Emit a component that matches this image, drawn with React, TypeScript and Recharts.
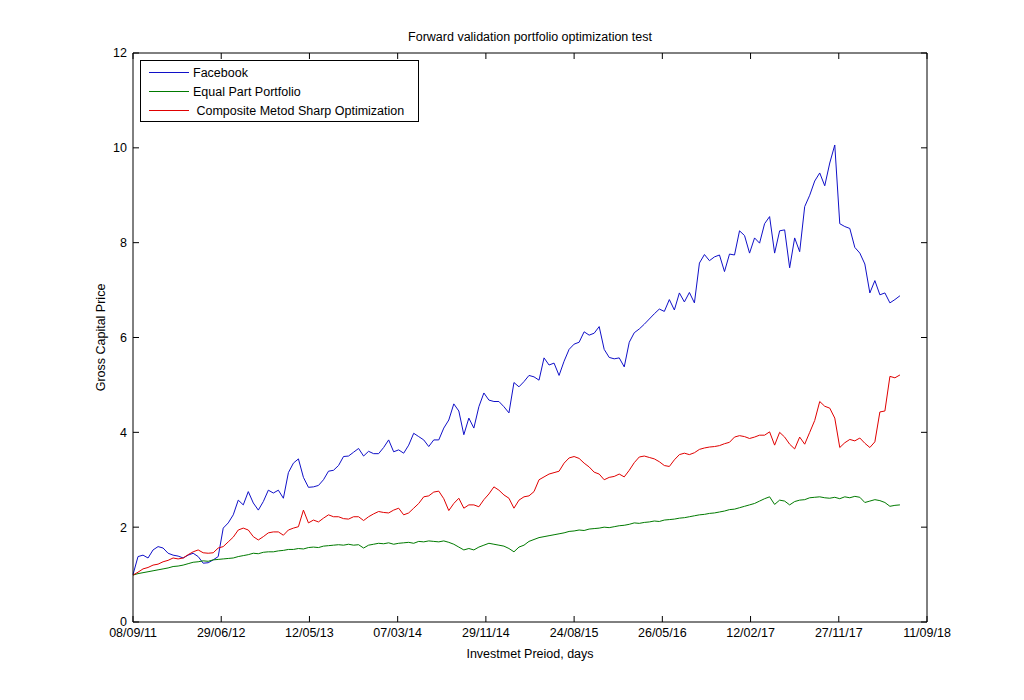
import React from 'react';
import { LineChart, Line, XAxis, YAxis, Legend } from 'recharts';

const dateLabels = ['08/09/11', '29/06/12', '12/05/13', '07/03/14', '29/11/14', '24/08/15', '26/05/16', '12/02/17', '27/11/17', '11/09/18'];
const priceTicks = [0, 2, 4, 6, 8, 10, 12];

const facebook = [
  1.00, 1.38, 1.41, 1.35, 1.52, 1.59, 1.56, 1.45, 1.41, 1.39,
  1.35, 1.41, 1.45, 1.38, 1.24, 1.25, 1.31, 1.38, 1.98, 2.09,
  2.26, 2.57, 2.47, 2.75, 2.51, 2.36, 2.54, 2.78, 2.72, 2.78,
  2.61, 3.15, 3.35, 3.44, 3.05, 2.84, 2.85, 2.88, 3.00, 3.18,
  3.20, 3.30, 3.49, 3.50, 3.58, 3.66, 3.50, 3.60, 3.55, 3.55,
  3.68, 3.84, 3.59, 3.63, 3.56, 3.73, 3.98, 3.91, 3.84, 3.70,
  3.84, 3.84, 4.09, 4.26, 4.60, 4.45, 3.95, 4.30, 4.09, 4.54,
  4.83, 4.68, 4.65, 4.65, 4.54, 4.41, 5.05, 4.96, 5.07, 5.20,
  5.17, 5.10, 5.57, 5.42, 5.46, 5.20, 5.50, 5.75, 5.86, 5.90,
  6.12, 6.05, 6.09, 6.23, 5.75, 5.58, 5.55, 5.57, 5.38, 5.90,
  6.10, 6.18, 6.28, 6.39, 6.50, 6.60, 6.55, 6.80, 6.58, 6.94,
  6.75, 6.95, 6.73, 7.57, 7.75, 7.62, 7.70, 7.74, 7.39, 7.76,
  7.74, 8.25, 8.15, 7.78, 8.10, 7.99, 8.40, 8.55, 7.78, 8.25,
  8.27, 7.47, 8.10, 7.81, 8.76, 9.00, 9.30, 9.47, 9.20, 9.68,
  10.06, 8.40, 8.34, 8.30, 7.90, 7.78, 7.55, 6.94, 7.20, 6.90,
  6.94, 6.73, 6.80, 6.88,
];

const equalPart = [
  0.99, 1.02, 1.04, 1.06, 1.08, 1.10, 1.12, 1.14, 1.17, 1.18,
  1.20, 1.23, 1.26, 1.27, 1.29, 1.28, 1.31, 1.32, 1.33, 1.34,
  1.35, 1.38, 1.40, 1.42, 1.45, 1.44, 1.47, 1.48, 1.48, 1.50,
  1.51, 1.53, 1.53, 1.55, 1.54, 1.57, 1.58, 1.57, 1.60, 1.61,
  1.62, 1.63, 1.62, 1.64, 1.62, 1.63, 1.56, 1.62, 1.64, 1.66,
  1.65, 1.67, 1.64, 1.66, 1.67, 1.68, 1.66, 1.70, 1.69, 1.71,
  1.70, 1.69, 1.71, 1.68, 1.64, 1.58, 1.52, 1.55, 1.52, 1.58,
  1.62, 1.66, 1.64, 1.62, 1.60, 1.55, 1.48, 1.58, 1.62, 1.70,
  1.74, 1.78, 1.80, 1.82, 1.84, 1.86, 1.88, 1.91, 1.92, 1.94,
  1.93, 1.96, 1.97, 1.98, 2.00, 1.99, 2.01, 2.03, 2.04, 2.06,
  2.09, 2.08, 2.10, 2.11, 2.13, 2.12, 2.15, 2.16, 2.17, 2.19,
  2.20, 2.22, 2.24, 2.26, 2.27, 2.29, 2.30, 2.32, 2.34, 2.37,
  2.38, 2.41, 2.44, 2.47, 2.50, 2.55, 2.60, 2.64, 2.48, 2.57,
  2.55, 2.47, 2.54, 2.57, 2.58, 2.62, 2.63, 2.64, 2.62, 2.61,
  2.63, 2.60, 2.64, 2.62, 2.65, 2.63, 2.52, 2.55, 2.58, 2.56,
  2.52, 2.44, 2.46, 2.47,
];

const composite = [
  0.99, 1.05, 1.12, 1.15, 1.20, 1.22, 1.27, 1.30, 1.35, 1.33,
  1.35, 1.42, 1.48, 1.52, 1.46, 1.45, 1.46, 1.56, 1.59, 1.69,
  1.79, 1.94, 1.98, 1.94, 1.80, 1.73, 1.80, 1.88, 1.90, 1.90,
  1.83, 1.94, 1.98, 2.01, 2.36, 2.09, 2.15, 2.11, 2.19, 2.26,
  2.22, 2.22, 2.18, 2.17, 2.22, 2.22, 2.14, 2.22, 2.28, 2.33,
  2.31, 2.30, 2.36, 2.40, 2.26, 2.30, 2.40, 2.50, 2.64, 2.66,
  2.74, 2.76, 2.60, 2.35, 2.50, 2.61, 2.40, 2.47, 2.47, 2.43,
  2.58, 2.70, 2.85, 2.78, 2.68, 2.61, 2.40, 2.57, 2.64, 2.66,
  2.75, 3.00, 3.06, 3.12, 3.15, 3.18, 3.35, 3.46, 3.49, 3.45,
  3.35, 3.27, 3.16, 3.12, 3.00, 3.05, 3.07, 3.12, 3.06, 3.20,
  3.36, 3.48, 3.50, 3.47, 3.44, 3.38, 3.30, 3.28, 3.42, 3.53,
  3.56, 3.53, 3.57, 3.64, 3.67, 3.69, 3.70, 3.72, 3.76, 3.79,
  3.90, 3.93, 3.91, 3.87, 3.90, 3.94, 3.94, 4.01, 3.73, 4.00,
  3.90, 3.75, 3.65, 3.90, 3.75, 4.00, 4.25, 4.65, 4.55, 4.51,
  4.30, 3.68, 3.78, 3.85, 3.82, 3.88, 3.77, 3.68, 3.80, 4.43,
  4.45, 5.18, 5.15, 5.21,
];

const FONT = '"Liberation Sans", Arial, Helvetica, sans-serif';
const FS = 12.5;
const TICK_LEN = 6;

const data = facebook.map((v, i) => ({
  t: i * 5,
  facebook: v,
  equalPart: equalPart[i],
  composite: composite[i],
}));
const xTicks = dateLabels.map((_, i) => i * 88);

const series = [
  { key: 'facebook', name: 'Facebook', color: '#1010c8' },
  { key: 'equalPart', name: 'Equal Part Portfolio', color: '#007a00' },
  { key: 'composite', name: ' Composite Metod Sharp Optimization', color: '#e00000' },
];

const BottomTick = (props: any) => {
  const { x, y, payload } = props;
  const label = dateLabels[xTicks.indexOf(payload.value)];
  return (
    <g>
      <line x1={x} x2={x} y1={y - 5} y2={y - 5 - TICK_LEN} stroke="#000" />
      <text x={x} y={y} dy="0.8em" textAnchor="middle" fontSize={FS} fontFamily={FONT} fill="#000">
        {label}
      </text>
    </g>
  );
};

const TopTick = (props: any) => {
  const { x, y } = props;
  return <line x1={x} x2={x} y1={y} y2={y + TICK_LEN} stroke="#000" />;
};

const LeftTick = (props: any) => {
  const { x, y, payload } = props;
  return (
    <g>
      <line x1={x + 6} x2={x + 6 + TICK_LEN} y1={y} y2={y} stroke="#000" />
      <text x={x} y={y} dy="0.35em" textAnchor="end" fontSize={FS} fontFamily={FONT} fill="#000">
        {payload.value}
      </text>
    </g>
  );
};

const RightTick = (props: any) => {
  const { x, y } = props;
  return <line x1={x} x2={x - TICK_LEN} y1={y} y2={y} stroke="#000" />;
};

const LegendBox = () => (
  <div
    style={{
      width: 277,
      height: 58,
      border: '1px solid #000',
      background: '#fff',
      paddingTop: 2,
      boxSizing: 'content-box',
      fontFamily: FONT,
      fontSize: FS,
      color: '#000',
      textAlign: 'left',
    }}
  >
    {series.map((s) => (
      <div key={s.key} style={{ display: 'flex', alignItems: 'center', height: 19 }}>
        <span style={{ display: 'inline-block', width: 40, height: 1, background: s.color, marginLeft: 8, marginRight: 4 }} />
        <span style={{ whiteSpace: 'pre' }}>{s.name}</span>
      </div>
    ))}
  </div>
);

export default function App() {
  return (
    <div style={{ position: 'absolute', left: 0, top: 0, width: 1024, height: 700, background: '#fff' }}>
      <div
        style={{
          position: 'absolute',
          left: 133,
          top: 30,
          width: 794,
          textAlign: 'center',
          fontFamily: FONT,
          fontSize: FS,
          color: '#000',
        }}
      >
        Forward validation portfolio optimization test
      </div>
      <LineChart width={1024} height={700} data={data} margin={{ top: 52, right: 96, bottom: 38, left: 93 }}>
        <XAxis
          dataKey="t"
          type="number"
          domain={[0, 792]}
          ticks={xTicks}
          interval={0}
          tickSize={0}
          tickMargin={5}
          tickLine={false}
          tick={<BottomTick />}
          axisLine={{ stroke: '#000' }}
          height={40}
          label={{
            value: 'Investmet Preiod, days',
            position: 'insideBottom',
            offset: 4,
            style: { fontFamily: FONT, fontSize: FS, fill: '#000' },
          }}
        />
        <XAxis
          xAxisId="top"
          orientation="top"
          dataKey="t"
          type="number"
          domain={[0, 792]}
          ticks={xTicks}
          interval={0}
          tickSize={0}
          tickMargin={0}
          tickLine={false}
          tick={<TopTick />}
          axisLine={{ stroke: '#000' }}
          height={1}
        />
        <YAxis
          type="number"
          domain={[0, 12]}
          ticks={priceTicks}
          interval={0}
          tickSize={0}
          tickMargin={6}
          tickLine={false}
          tick={<LeftTick />}
          axisLine={{ stroke: '#000' }}
          width={40}
          label={{
            value: 'Gross Capital Price',
            angle: -90,
            position: 'insideLeft',
            offset: 8,
            textAnchor: 'middle',
            style: { fontFamily: FONT, fontSize: FS, fill: '#000', textAnchor: 'middle' },
          }}
        />
        <YAxis
          yAxisId="right"
          orientation="right"
          type="number"
          domain={[0, 12]}
          ticks={priceTicks}
          interval={0}
          tickSize={0}
          tickMargin={0}
          tickLine={false}
          tick={<RightTick />}
          axisLine={{ stroke: '#000' }}
          width={1}
        />
        <Legend
          verticalAlign="middle"
          align="center"
          layout="horizontal"
          content={<LegendBox />}
          wrapperStyle={{ left: 140, top: 60, width: 279, height: 60 }}
        />
        {series.map((s) => (
          <Line
            key={s.key}
            type="linear"
            dataKey={s.key}
            name={s.name}
            stroke={s.color}
            strokeWidth={1}
            dot={false}
            activeDot={false}
            isAnimationActive={false}
          />
        ))}
        <Line
          xAxisId="top"
          yAxisId="right"
          dataKey="facebook"
          stroke="none"
          strokeWidth={0}
          dot={false}
          activeDot={false}
          legendType="none"
          isAnimationActive={false}
        />
      </LineChart>
    </div>
  );
}
